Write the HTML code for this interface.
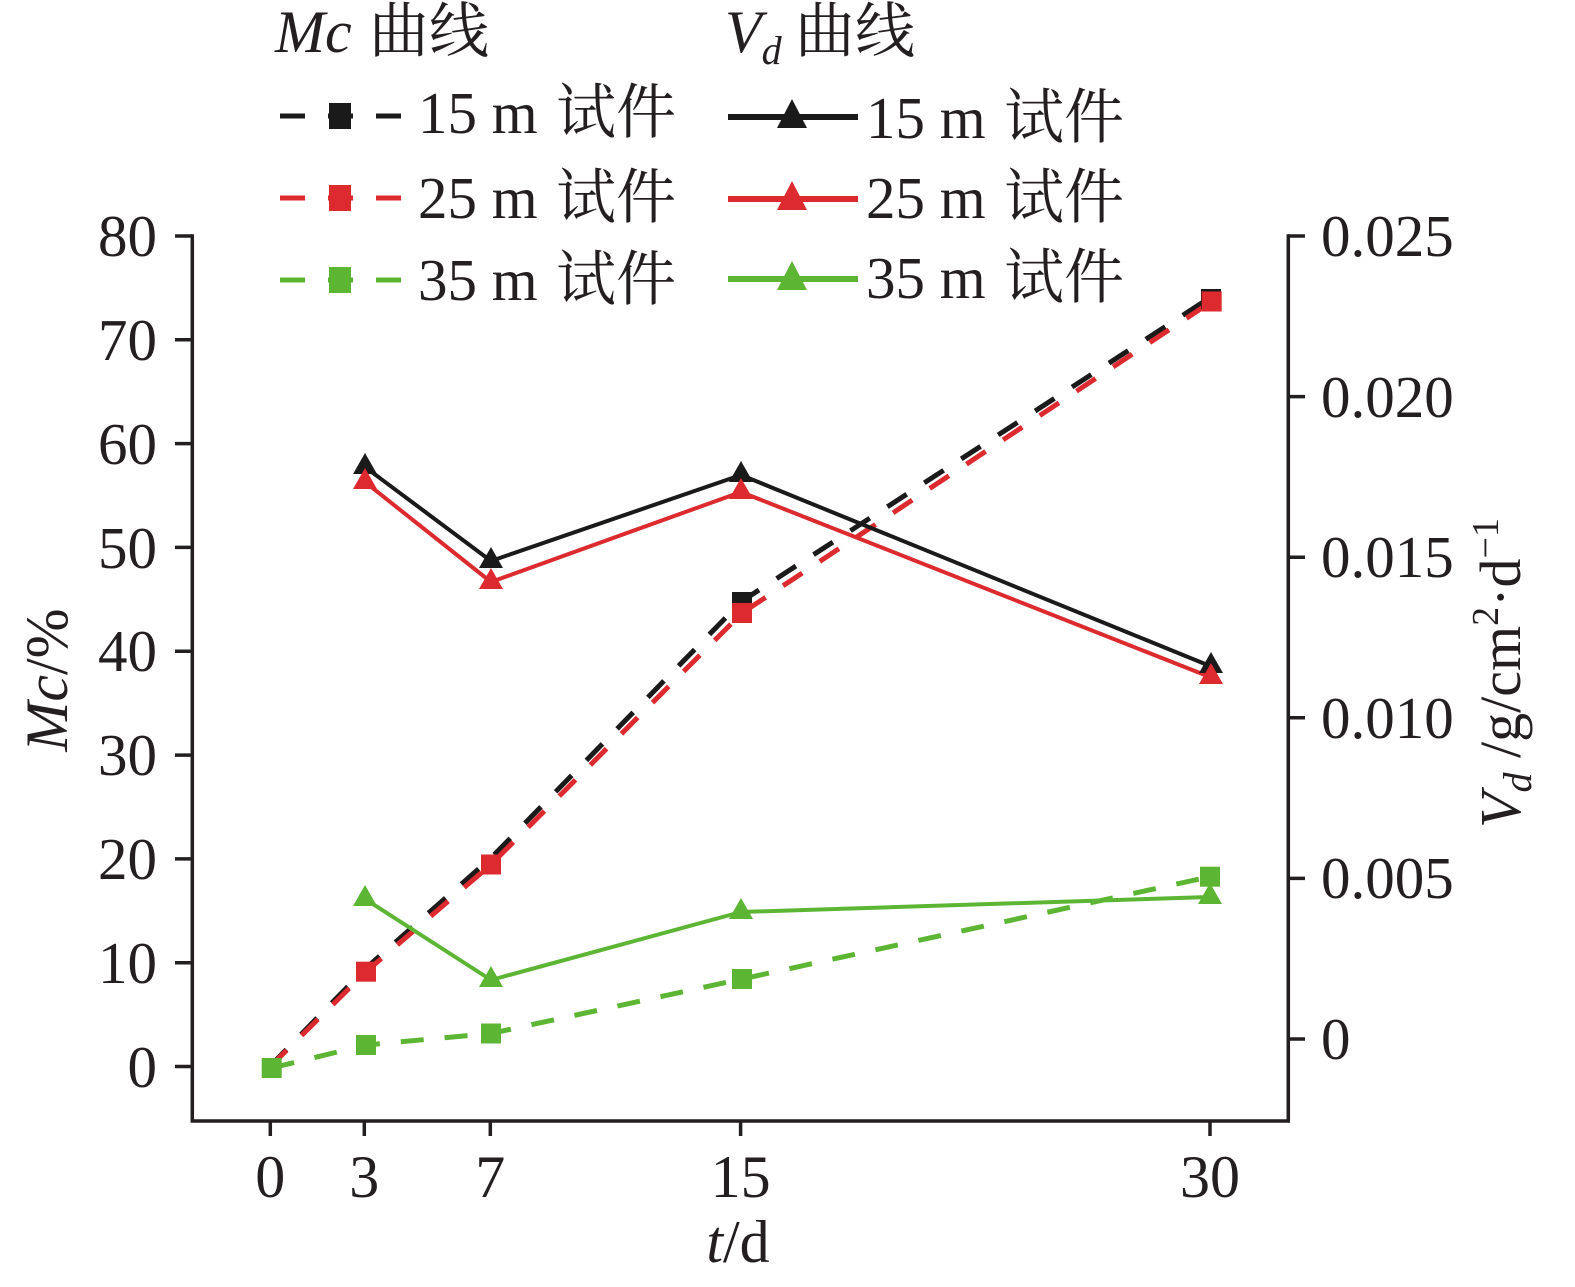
<!DOCTYPE html>
<html><head><meta charset="utf-8"><style>
html,body{margin:0;padding:0;background:#fff;}
svg{display:block;}
text,tspan{font-family:"Liberation Serif","Times New Roman",serif;fill:#231f20;}
.cj{font-family:"Noto Serif CJK SC","Liberation Serif",serif;}
</style></head><body>
<svg width="1575" height="1287" viewBox="0 0 1575 1287" xmlns="http://www.w3.org/2000/svg" font-family="Liberation Serif, serif">
<rect width="1575" height="1287" fill="#fff"/>

<!-- Legend titles -->
<text x="275" y="52" font-size="60"><tspan font-style="italic">Mc</tspan> <tspan class="cj" x="369">曲线</tspan></text>
<text x="725" y="52" font-size="60"><tspan font-style="italic">V</tspan><tspan font-style="italic" font-size="40" dy="12">d</tspan><tspan class="cj" dy="-12" x="795">曲线</tspan></text>

<!-- Legend left column (Mc, dashed + square) -->
<g stroke-width="5" stroke-dasharray="25,23">
<line x1="280" y1="116" x2="401" y2="116" stroke="#1a1a1a"/>
<line x1="280" y1="198" x2="401" y2="198" stroke="#dd2a2e"/>
<line x1="280" y1="280" x2="401" y2="280" stroke="#5db534"/>
</g>
<rect x="329" y="103" width="22" height="26" fill="#1a1a1a"/>
<rect x="329" y="185" width="22" height="26" fill="#dd2a2e"/>
<rect x="329" y="267" width="22" height="26" fill="#5db534"/>
<text x="418" y="133" font-size="59">15 m <tspan class="cj" x="556" font-size="60">试件</tspan></text>
<text x="418" y="218" font-size="59">25 m <tspan class="cj" x="556" font-size="60">试件</tspan></text>
<text x="418" y="300" font-size="59">35 m <tspan class="cj" x="556" font-size="60">试件</tspan></text>

<!-- Legend right column (Vd, solid + triangle) -->
<line x1="728" y1="117" x2="858" y2="117" stroke="#1a1a1a" stroke-width="6"/>
<line x1="728" y1="199" x2="858" y2="199" stroke="#dd2a2e" stroke-width="6"/>
<line x1="728" y1="279" x2="858" y2="279" stroke="#5db534" stroke-width="6"/>
<polygon points="792,99 807,128 777,128" fill="#1a1a1a"/>
<polygon points="792,181 807,210 777,210" fill="#dd2a2e"/>
<polygon points="792,261 807,290 777,290" fill="#5db534"/>
<text x="866" y="138" font-size="59">15 m <tspan class="cj" x="1004" font-size="60">试件</tspan></text>
<text x="866" y="218" font-size="59">25 m <tspan class="cj" x="1004" font-size="60">试件</tspan></text>
<text x="866" y="298" font-size="59">35 m <tspan class="cj" x="1004" font-size="60">试件</tspan></text>

<!-- Axes -->
<g stroke="#231f20" stroke-width="3.5" fill="none">
<polyline points="192.3,234.3 192.3,1121 1288.3,1121 1288.3,234.3"/>
<line x1="175" y1="236" x2="192" y2="236"/>
<line x1="175" y1="339.8" x2="192" y2="339.8"/>
<line x1="175" y1="443.6" x2="192" y2="443.6"/>
<line x1="175" y1="547.4" x2="192" y2="547.4"/>
<line x1="175" y1="651.2" x2="192" y2="651.2"/>
<line x1="175" y1="755.1" x2="192" y2="755.1"/>
<line x1="175" y1="858.9" x2="192" y2="858.9"/>
<line x1="175" y1="962.7" x2="192" y2="962.7"/>
<line x1="175" y1="1066.5" x2="192" y2="1066.5"/>
<line x1="1288" y1="236" x2="1305" y2="236"/>
<line x1="1288" y1="396.6" x2="1305" y2="396.6"/>
<line x1="1288" y1="557.2" x2="1305" y2="557.2"/>
<line x1="1288" y1="717.8" x2="1305" y2="717.8"/>
<line x1="1288" y1="878.4" x2="1305" y2="878.4"/>
<line x1="1288" y1="1039" x2="1305" y2="1039"/>
<line x1="270.3" y1="1121" x2="270.3" y2="1136"/>
<line x1="364.3" y1="1121" x2="364.3" y2="1136"/>
<line x1="490.3" y1="1121" x2="490.3" y2="1136"/>
<line x1="740.6" y1="1121" x2="740.6" y2="1136"/>
<line x1="1210" y1="1121" x2="1210" y2="1136"/>
</g>

<!-- Left tick labels -->
<g font-size="59" text-anchor="end">
<text x="157" y="256">80</text>
<text x="157" y="360">70</text>
<text x="157" y="464">60</text>
<text x="157" y="568">50</text>
<text x="157" y="671">40</text>
<text x="157" y="775">30</text>
<text x="157" y="879">20</text>
<text x="157" y="983">10</text>
<text x="157" y="1087">0</text>
</g>
<!-- Right tick labels -->
<g font-size="59">
<text x="1321" y="256">0.025</text>
<text x="1321" y="417">0.020</text>
<text x="1321" y="577">0.015</text>
<text x="1321" y="738">0.010</text>
<text x="1321" y="898">0.005</text>
<text x="1321" y="1059">0</text>
</g>
<!-- Bottom tick labels -->
<g font-size="60" text-anchor="middle">
<text x="270.3" y="1197">0</text>
<text x="364.3" y="1197">3</text>
<text x="490.3" y="1197">7</text>
<text x="740.6" y="1197">15</text>
<text x="1210" y="1197">30</text>
</g>

<!-- Axis titles -->
<text x="738" y="1262" font-size="60" text-anchor="middle"><tspan font-style="italic">t</tspan>/d</text>
<text transform="translate(67,680) rotate(-90)" font-size="60" text-anchor="middle"><tspan font-style="italic">Mc</tspan>/%</text>
<text transform="translate(1520,673) rotate(-90)" font-size="58" text-anchor="middle"><tspan font-style="italic">V</tspan><tspan font-style="italic" font-size="40" dy="11">d</tspan><tspan dy="-11"> /g/cm</tspan><tspan font-size="38" dy="-22">2</tspan><tspan dy="22">·d</tspan><tspan font-size="38" dy="-22">−1</tspan></text>

<!-- Mc dashed series -->
<g fill="none" stroke-width="5" stroke-dasharray="23,21" stroke-linejoin="round">
<polyline points="270.3,1066 365,969 491,858 742,601 1211,297" stroke="#1a1a1a"/>
<polyline points="270.3,1066.5 366,971.7 491,864.5 742,613 1211.7,301.5" stroke="#dd2a2e"/>
<polyline points="271.7,1068 366,1045 491,1033.5 742,979 1210,876.7" stroke="#5db534"/>
</g>
<rect x="732" y="592" width="20" height="20" fill="#1a1a1a"/>
<rect x="1201" y="289" width="20" height="20" fill="#1a1a1a"/>
<g fill="#dd2a2e">
<rect x="356" y="961.7" width="20" height="20"/>
<rect x="481" y="854.5" width="20" height="20"/>
<rect x="732" y="603" width="20" height="20"/>
<rect x="1201.7" y="291.5" width="20" height="20"/>
</g>
<g fill="#5db534">
<rect x="261.7" y="1058" width="20" height="20"/>
<rect x="356" y="1035" width="20" height="20"/>
<rect x="481" y="1023.5" width="20" height="20"/>
<rect x="732" y="969" width="20" height="20"/>
<rect x="1200" y="866.7" width="20" height="20"/>
</g>

<!-- Vd solid series -->
<g fill="none" stroke-width="4" stroke-linejoin="round">
<polyline points="365,467 491,561 741,475 1210,666" stroke="#1a1a1a"/>
<polyline points="365,482 491,582 741,492 1210,677" stroke="#dd2a2e"/>
<polyline points="365,899 491,980 741,912 1210,897" stroke="#5db534"/>
</g>
<g fill="#1a1a1a">
<polygon points="365,453 377,474 353,474"/>
<polygon points="491,547 503,568 479,568"/>
<polygon points="741,461 753,482 729,482"/>
<polygon points="1211,652 1223,673 1199,673"/>
</g>
<g fill="#dd2a2e">
<polygon points="365,468 377,489 353,489"/>
<polygon points="491,568 503,589 479,589"/>
<polygon points="741,478 753,499 729,499"/>
<polygon points="1211,663 1223,684 1199,684"/>
</g>
<g fill="#5db534">
<polygon points="365,885 377,906 353,906"/>
<polygon points="491,966 503,987 479,987"/>
<polygon points="741,898 753,919 729,919"/>
<polygon points="1210,883 1222,904 1198,904"/>
</g>
</svg>
</body></html>
